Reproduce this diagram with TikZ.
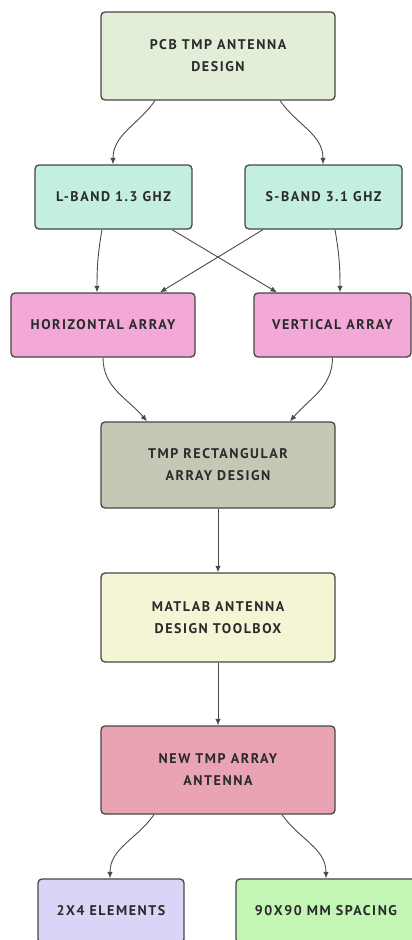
\documentclass[tikz,border=0pt]{standalone}
\usepackage{fontspec}
\setmainfont{PT Sans}[LetterSpace=11]
\usetikzlibrary{arrows.meta}
\definecolor{cTop}{HTML}{E2EED8}
\definecolor{cBand}{HTML}{C4EFE0}
\definecolor{cPink}{HTML}{F2A9D8}
\definecolor{cRect}{HTML}{C6C8B6}
\definecolor{cMat}{HTML}{F3F5D4}
\definecolor{cNew}{HTML}{E9A3B2}
\definecolor{cLav}{HTML}{DCD4F6}
\definecolor{cGrn}{HTML}{C3F6B5}
\definecolor{cBorder}{HTML}{464646}
\definecolor{cLine}{HTML}{4A4A4A}
\definecolor{cText}{HTML}{2A2A2A}
\tikzset{
  box/.style={draw=cBorder, line width=1.3pt, rounded corners=4pt, align=center,
    text=cText, font=\fontsize{14}{22}\selectfont\bfseries, inner sep=0pt},
  conn/.style={draw=cLine, line width=0.9pt, -{Latex[length=6.5pt,width=5.5pt]}},
}
\begin{document}
\begin{tikzpicture}[x=1pt,y=-1pt]
\useasboundingbox (0,0) rectangle (412,940);
\clip (0,0) rectangle (412,940);
\node[box, fill=cTop, minimum width=234pt, minimum height=88pt] (top) at (218,56) {PCB TMP ANTENNA\\DESIGN};
\node[box, fill=cBand, minimum width=157pt, minimum height=64pt] (lband) at (113.5,197) {L-BAND 1.3 GHZ};
\node[box, fill=cBand, minimum width=157pt, minimum height=64pt] (sband) at (323.5,197) {S-BAND 3.1 GHZ};
\node[box, fill=cPink, minimum width=184pt, minimum height=64pt] (horiz) at (103,325) {HORIZONTAL ARRAY};
\node[box, fill=cPink, minimum width=157pt, minimum height=64pt] (vert) at (332.5,325) {VERTICAL ARRAY};
\node[box, fill=cRect, minimum width=234pt, minimum height=86pt] (rect) at (218,465) {TMP RECTANGULAR\\ARRAY DESIGN};
\node[box, fill=cMat, minimum width=234pt, minimum height=89pt] (mat) at (218,617.5) {MATLAB ANTENNA\\DESIGN TOOLBOX};
\node[box, fill=cNew, minimum width=234pt, minimum height=88pt] (new) at (218,770) {NEW TMP ARRAY\\ANTENNA};
\node[box, fill=cLav, minimum width=146pt, minimum height=64pt] (elem) at (111,911) {2X4 ELEMENTS};
\node[box, fill=cGrn, minimum width=180pt, minimum height=64pt] (spac) at (326,911) {90X90 MM SPACING};

\draw[conn] ([xshift=-63pt]top.south) to[out=-125,in=90] ([xshift=-0.5pt]lband.north);
\draw[conn] ([xshift=62pt]top.south) to[out=-55,in=90] ([xshift=-0.5pt]sband.north);
\draw[conn] ([xshift=-11.5pt]lband.south) to[out=-100,in=90] ([xshift=-6pt]horiz.north);
\draw[conn] ([xshift=58.5pt]lband.south) -- ([xshift=-55.5pt]vert.north);
\draw[conn] ([xshift=-60.5pt]sband.south) -- ([xshift=57pt]horiz.north);
\draw[conn] ([xshift=11.5pt]sband.south) to[out=-80,in=90] ([xshift=7.5pt]vert.north);
\draw[conn] (horiz.south) to[out=-90,in=130] ([xshift=-71pt]rect.north);
\draw[conn] (vert.south) to[out=-90,in=50] ([xshift=72pt]rect.north);
\draw[conn] (rect) -- (mat);
\draw[conn] (mat) -- (new);
\draw[conn] ([xshift=-64pt]new.south) to[out=-125,in=90] ([xshift=-1pt]elem.north);
\draw[conn] ([xshift=64pt]new.south) to[out=-55,in=90] (spac.north);
\end{tikzpicture}
\end{document}
